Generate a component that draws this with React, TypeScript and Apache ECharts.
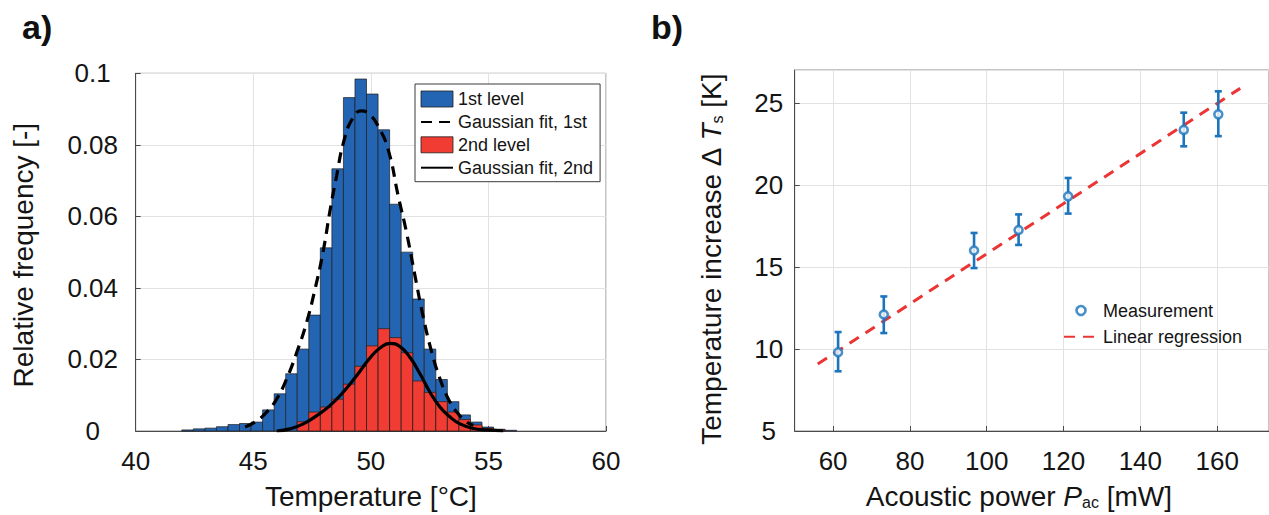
import React, { useEffect, useRef } from 'react';
import * as echarts from 'echarts';

// ---------- panel a) histogram data ----------
const BIN_START = 41.96;
const BIN_WIDTH = 0.491;
const FIRST_LEVEL = [
  0.0003, 0.0006, 0.0008, 0.0012, 0.0018, 0.0021, 0.0025, 0.0059, 0.0104, 0.016,
  0.0229, 0.0324, 0.0512, 0.0733, 0.0932, 0.0984, 0.0942, 0.0842, 0.0634, 0.05,
  0.0369, 0.0229, 0.0144, 0.0082, 0.0045, 0.0025, 0.0011, 0.0005, 0.0002,
];
const SECOND_LEVEL = [
  0, 0, 0, 0, 0, 0, 0, 0, 0, 0,
  0.0026, 0.0053, 0.0067, 0.0089, 0.0131, 0.0181, 0.0238, 0.0286, 0.0261, 0.0219,
  0.014, 0.0108, 0.0082, 0.0053, 0.0032, 0.0017, 0.0008, 0.0003, 0,
];
const FIT_1ST_X = [44.65, 45.07, 45.57, 46.0, 46.42, 46.85, 47.27, 47.62, 47.98, 48.26, 48.55, 48.83, 49.19, 49.6, 49.95, 50.32, 50.74, 51.17, 51.52, 51.88, 52.23, 52.59, 52.94, 53.29, 53.65, 54.08, 54.36];
const FIT_1ST_Y = [0.0011, 0.0025, 0.0053, 0.009, 0.0146, 0.022, 0.0304, 0.0395, 0.0505, 0.0615, 0.0715, 0.0805, 0.087, 0.0895, 0.0885, 0.0851, 0.0786, 0.0655, 0.0554, 0.0433, 0.0318, 0.022, 0.0146, 0.009, 0.0053, 0.0025, 0.0016];
const FIT_2ND_X = [46.0, 46.56, 47.13, 47.7, 48.26, 48.83, 49.4, 49.96, 50.39, 50.81, 51.24, 51.66, 52.09, 52.51, 52.94, 53.37, 53.79, 54.36, 54.93, 55.63];
const FIT_2ND_Y = [0, 0.0006, 0.002, 0.0043, 0.0071, 0.0109, 0.0155, 0.0204, 0.0232, 0.0245, 0.0236, 0.0206, 0.016, 0.0109, 0.0067, 0.0039, 0.002, 0.0007, 0.0003, 0];
const TEMP_TICKS = [40, 45, 50, 55, 60];

// ---------- panel b) data ----------
const POWER = [61.3, 73.2, 96.7, 108.3, 121.2, 151.3, 160.3];
const DELTA_T = [9.8, 12.1, 16.0, 17.25, 19.3, 23.35, 24.3];
const DELTA_T_LOW = [8.64, 10.97, 14.93, 16.34, 18.25, 22.35, 22.97];
const DELTA_T_HIGH = [11.03, 13.2, 17.07, 18.2, 20.42, 24.4, 25.7];
const REG_X = [56, 166];
const REG_Y = [9.08, 25.88];
const POWER_TICKS = [60, 80, 100, 120, 140, 160];

const FONT = '"Liberation Sans", Arial, Helvetica, sans-serif';
const BLUE = '#2465B3';
const RED = '#F03C33';
const MBLUE = '#1C74BC';
const TXT = '#141414';
const AXIS = '#4a4a4a';
const GRIDC = '#e2e2e2';

export default function App() {
  const ref = useRef<HTMLDivElement>(null);

  useEffect(() => {
    document.body.style.margin = '0';
    const chart = echarts.init(ref.current as HTMLDivElement, null, { renderer: 'svg' });

    const edges = FIRST_LEVEL.map((_, k) => BIN_START + k * BIN_WIDTH);
    const histData = (vals: number[]) =>
      vals.map((v, k) => [edges[k], edges[k] + BIN_WIDTH, v]);

    const histRender = (fill: string) => (params: any, api: any) => {
      const x0 = api.value(0);
      const x1 = api.value(1);
      const h = api.value(2);
      if (!h) return null;
      const p0 = api.coord([x0, h]);
      const p1 = api.coord([x1, 0]);
      return {
        type: 'rect',
        shape: { x: p0[0], y: p0[1], width: p1[0] - p0[0], height: p1[1] - p0[1] },
        style: { fill, stroke: '#1e1e1e', lineWidth: 0.7 },
      };
    };

    const errRender = (params: any, api: any) => {
      const x = api.value(0);
      const lo = api.coord([x, api.value(1)]);
      const hi = api.coord([x, api.value(2)]);
      const cap = 3.5;
      const st = { stroke: MBLUE, lineWidth: 2.6 };
      return {
        type: 'group',
        children: [
          { type: 'line', shape: { x1: lo[0], y1: lo[1], x2: hi[0], y2: hi[1] }, style: st },
          { type: 'line', shape: { x1: lo[0] - cap, y1: lo[1], x2: lo[0] + cap, y2: lo[1] }, style: st },
          { type: 'line', shape: { x1: hi[0] - cap, y1: hi[1], x2: hi[0] + cap, y2: hi[1] }, style: st },
        ],
      };
    };

    const tickLabel = { fontSize: 26, color: TXT, fontFamily: FONT };
    const nameStyle = { fontSize: 28, color: TXT, fontFamily: FONT };
    const rich = {
      i: { fontSize: 28, fontStyle: 'italic', color: TXT, fontFamily: FONT },
      sub: { fontSize: 16, color: TXT, fontFamily: FONT, verticalAlign: 'bottom', lineHeight: 10 },
    };

    const option: any = {
      animation: false,
      backgroundColor: '#ffffff',
      textStyle: { fontFamily: FONT },
      grid: [
        { left: 135.7, top: 73.3, width: 470.3, height: 359, show: true, borderColor: '#8c8c8c', borderWidth: 1, backgroundColor: 'transparent' },
        { left: 794.7, top: 70, width: 480, height: 361.7, show: true, borderColor: '#8c8c8c', borderWidth: 1, backgroundColor: 'transparent' },
      ],
      xAxis: [
        {
          gridIndex: 0, type: 'value', min: TEMP_TICKS[0], max: TEMP_TICKS[TEMP_TICKS.length - 1], interval: 5,
          axisLine: { show: true, onZero: false, lineStyle: { color: AXIS, width: 1 } },
          axisTick: { show: true, inside: true, length: 5, lineStyle: { color: AXIS } },
          axisLabel: { ...tickLabel, margin: 17 },
          splitLine: { show: true, lineStyle: { color: GRIDC, width: 1 } },
          name: 'Temperature [°C]', nameLocation: 'middle', nameGap: 51, nameTextStyle: nameStyle,
        },
        {
          gridIndex: 1, type: 'value', min: 50, max: 173.5,
          axisLine: { show: true, onZero: false, lineStyle: { color: AXIS, width: 1 } },
          axisTick: { show: true, inside: true, length: 5, lineStyle: { color: AXIS }, customValues: POWER_TICKS },
          axisLabel: { ...tickLabel, margin: 17, customValues: POWER_TICKS },
          splitLine: { show: true, lineStyle: { color: GRIDC, width: 1 } },
          name: 'Acoustic power {i|P}{sub|ac} [mW]', nameLocation: 'middle', nameGap: 51,
          nameTextStyle: { ...nameStyle, rich, padding: [0, 26, 0, 0] },
        },
      ],
      yAxis: [
        {
          gridIndex: 0, type: 'value', min: 0, max: 0.1, interval: 0.02,
          axisLine: { show: true, onZero: false, lineStyle: { color: AXIS, width: 1 } },
          axisTick: { show: true, inside: true, length: 5, lineStyle: { color: AXIS } },
          axisLabel: { ...tickLabel, margin: 43, align: 'center' },
          splitLine: { show: true, lineStyle: { color: GRIDC, width: 1 } },
          name: 'Relative frequency [-]', nameLocation: 'middle', nameGap: 98,
          nameTextStyle: { ...nameStyle, padding: [0, 6, 0, 0] },
        },
        {
          gridIndex: 1, type: 'value', min: 5, max: 27, interval: 5,
          axisLine: { show: true, onZero: false, lineStyle: { color: AXIS, width: 1 } },
          axisTick: { show: true, inside: true, length: 5, lineStyle: { color: AXIS } },
          axisLabel: { ...tickLabel, margin: 26, align: 'center', showMaxLabel: false },
          splitLine: { show: true, lineStyle: { color: GRIDC, width: 1 } },
          name: 'Temperature increase Δ {i|T}{sub|s} [K]', nameLocation: 'middle', nameGap: 69,
          nameTextStyle: { ...nameStyle, rich, padding: [0, 18, 0, 0] },
        },
      ],
      legend: [
        {
          orient: 'vertical', left: 415, top: 84,
          padding: [6, 7, 5, 5], itemGap: 4.9, itemWidth: 32, itemHeight: 16,
          borderColor: '#3a3a3a', borderWidth: 1, backgroundColor: '#ffffff',
          textStyle: { fontSize: 18, color: TXT, fontFamily: FONT },
          data: [
            { name: '1st level', icon: 'rect', itemStyle: { color: BLUE, borderColor: '#1e1e1e', borderWidth: 0.8 } },
            { name: 'Gaussian fit, 1st', itemStyle: { opacity: 0 } },
            { name: '2nd level', icon: 'rect', itemStyle: { color: RED, borderColor: '#1e1e1e', borderWidth: 0.8 } },
            { name: 'Gaussian fit, 2nd', itemStyle: { opacity: 0 } },
          ],
        },
        {
          orient: 'vertical', left: 1063, top: 301.5,
          padding: 0, itemGap: 8.2, itemWidth: 34, itemHeight: 9,
          textStyle: { fontSize: 18, color: TXT, fontFamily: FONT },
          data: [
            { name: 'Measurement', itemStyle: { color: '#ffffff', borderColor: MBLUE, borderWidth: 2.6 } },
            { name: 'Linear regression', itemStyle: { opacity: 0 } },
          ],
        },
      ],
      graphic: [
        { type: 'text', left: 22, top: 10, style: { text: 'a)', fontSize: 34, fontWeight: 'bold', fill: '#111', fontFamily: FONT } },
        { type: 'text', left: 651, top: 10, style: { text: 'b)', fontSize: 34, fontWeight: 'bold', fill: '#111', fontFamily: FONT } },
      ],
      series: [
        {
          name: '1st level', type: 'custom', xAxisIndex: 0, yAxisIndex: 0,
          itemStyle: { color: BLUE }, renderItem: histRender(BLUE), data: histData(FIRST_LEVEL), z: 2,
        },
        {
          name: '2nd level', type: 'custom', xAxisIndex: 0, yAxisIndex: 0,
          itemStyle: { color: RED }, renderItem: histRender(RED), data: histData(SECOND_LEVEL), z: 3,
        },
        {
          name: 'Gaussian fit, 1st', type: 'line', xAxisIndex: 0, yAxisIndex: 0, smooth: true, symbol: 'none',
          lineStyle: { color: '#000', width: 3.2, type: [11, 7] }, itemStyle: { color: '#000' },
          data: FIT_1ST_X.map((x, i) => [x, FIT_1ST_Y[i]]), z: 4,
        },
        {
          name: 'Gaussian fit, 2nd', type: 'line', xAxisIndex: 0, yAxisIndex: 0, smooth: true, symbol: 'none',
          lineStyle: { color: '#000', width: 3.2 }, itemStyle: { color: '#000' },
          data: FIT_2ND_X.map((x, i) => [x, FIT_2ND_Y[i]]), z: 4,
        },
        {
          name: 'Linear regression', type: 'line', xAxisIndex: 1, yAxisIndex: 1, symbol: 'none',
          lineStyle: { color: '#EB3434', width: 3, type: [11, 8] }, itemStyle: { color: '#EB3434' },
          data: REG_X.map((x, i) => [x, REG_Y[i]]), z: 3,
        },
        {
          name: 'errorbars', type: 'custom', xAxisIndex: 1, yAxisIndex: 1,
          renderItem: errRender, itemStyle: { color: MBLUE },
          data: POWER.map((x, i) => [x, DELTA_T_LOW[i], DELTA_T_HIGH[i]]), z: 4,
        },
        {
          name: 'Measurement', type: 'scatter', xAxisIndex: 1, yAxisIndex: 1, symbol: 'circle', symbolSize: 8,
          itemStyle: { color: '#ffffff', borderColor: MBLUE, borderWidth: 2.6 },
          data: POWER.map((x, i) => [x, DELTA_T[i]]), z: 5,
        },
      ],
    };

    chart.setOption(option);
    return () => chart.dispose();
  }, []);

  return <div ref={ref} style={{ width: 1269, height: 515 }} />;
}
